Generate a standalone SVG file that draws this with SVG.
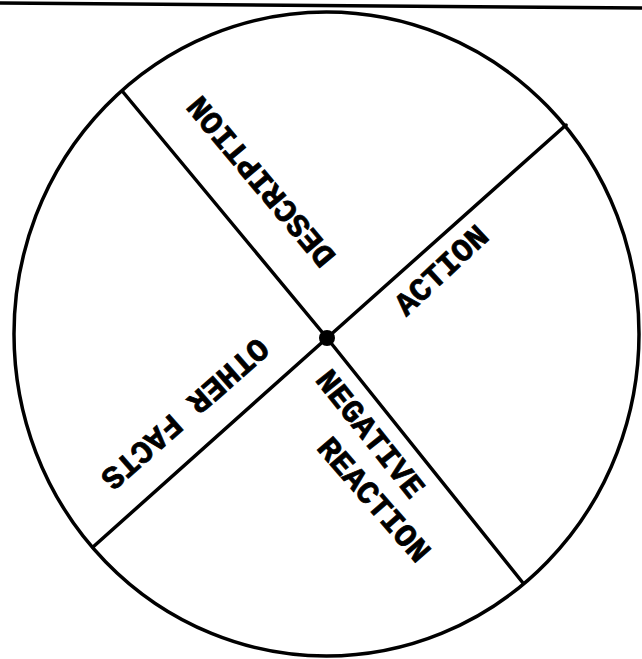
<svg xmlns="http://www.w3.org/2000/svg" width="642" height="659" viewBox="0 0 642 659">
  <style>
    .ink { fill: none; stroke: #000; stroke-width: 3.5; stroke-linecap: round; stroke-linejoin: round; }
    .lbl { font-family: "Liberation Mono", "DejaVu Sans Mono", monospace; font-weight: bold; font-size: 32px; fill: #000; stroke: #000; stroke-width: 0.8; text-anchor: middle; dominant-baseline: central; }
  </style>
  <rect width="642" height="659" fill="#fff"/>
  <line id="top-rule" class="ink" x1="0" y1="3" x2="642" y2="8" stroke-width="4"/>
  <g id="outline">
    <ellipse class="ink" cx="326.5" cy="334" rx="312.5" ry="322"/>
  </g>
  <g id="connectors">
    <path class="ink" d="M123,92 L327,338 L523,583"/>
    <path class="ink" d="M566,125 L327,338 L93,547"/>
  </g>
  <g id="center">
    <circle cx="327" cy="338" r="8" fill="#000"/>
  </g>
  <g id="description">
    <text class="lbl" transform="translate(262.5,180.5) rotate(230)">DESCRIPTION</text>
  </g>
  <g id="action">
    <text class="lbl" transform="translate(442.5,271.5) rotate(-43)">ACTION</text>
  </g>
  <g id="other-facts">
    <text class="lbl" transform="translate(184,412.5) rotate(138.6)">OTHER FACTS</text>
  </g>
  <g id="negative-reaction">
    <text class="lbl" transform="translate(369,435) rotate(51.4)">NEGATIVE</text>
    <text class="lbl" transform="translate(372.5,500.8) rotate(49)">REACTION</text>
  </g>
</svg>
